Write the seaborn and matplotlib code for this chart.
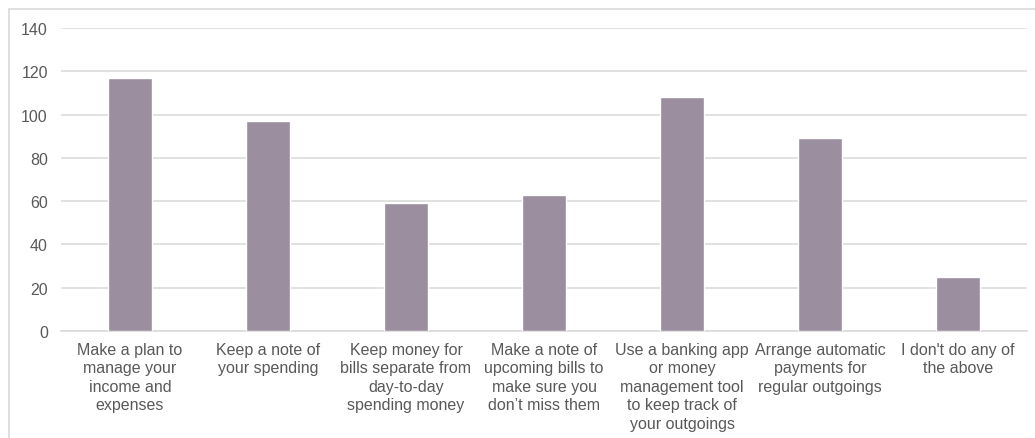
import matplotlib
matplotlib.use("Agg")
import matplotlib.pyplot as plt
import seaborn as sns
import pandas as pd
from matplotlib.patches import Rectangle

categories = [
    "Make a plan to\nmanage your\nincome and\nexpenses",
    "Keep a note of\nyour spending",
    "Keep money for\nbills separate from\nday-to-day\nspending money",
    "Make a note of\nupcoming bills to\nmake sure you\ndon\u2019t miss them",
    "Use a banking app\nor money\nmanagement tool\nto keep track of\nyour outgoings",
    "Arrange automatic\npayments for\nregular outgoings",
    "I don't do any of\nthe above",
]
values = [117, 97, 59, 63, 108, 89, 25]
y_ticks = [0, 20, 40, 60, 80, 100, 120, 140]

sns.set_theme(style="white")
plt.rcParams["font.family"] = ["Liberation Sans", "DejaVu Sans"]

W, H = 1035, 439
fig = plt.figure(figsize=(W / 100, H / 100), dpi=100)
ax = fig.add_axes([61 / W, (H - 332) / H, 966 / W, 303 / H])

df = pd.DataFrame({"category": categories, "value": values})
sns.barplot(data=df, x="category", y="value", color="#9b8e9f", saturation=1,
            width=0.32, ax=ax, zorder=3)

ax.set_ylim(0, 140)
ax.set_yticks(y_ticks)
ax.set_xlim(-0.5, len(categories) - 0.5)
ax.yaxis.grid(True, color="#d9d9d9", linewidth=1.1, zorder=0)
ax.set_axisbelow(True)
for s in ["top", "right", "left"]:
    ax.spines[s].set_visible(False)
ax.spines["bottom"].set_color("#d9d9d9")
ax.spines["bottom"].set_linewidth(1.1)
ax.set_xlabel("")
ax.set_ylabel("")
ax.tick_params(axis="y", length=0, pad=9.5, labelsize=11.5, labelcolor="#595959")
ax.tick_params(axis="x", length=0, pad=8, labelsize=11.5, labelcolor="#595959")
for lbl in ax.get_xticklabels():
    lbl.set_linespacing(1.28)
    lbl.set_horizontalalignment("center")

# light border around the chart area
fig.patches.append(Rectangle((9 / W, -0.05), 1.1, (H - 10) / H + 0.05,
                             transform=fig.transFigure, fill=False,
                             edgecolor="#d9d9d9", linewidth=1.2))

fig.savefig("out.png", dpi=100, facecolor="white")
